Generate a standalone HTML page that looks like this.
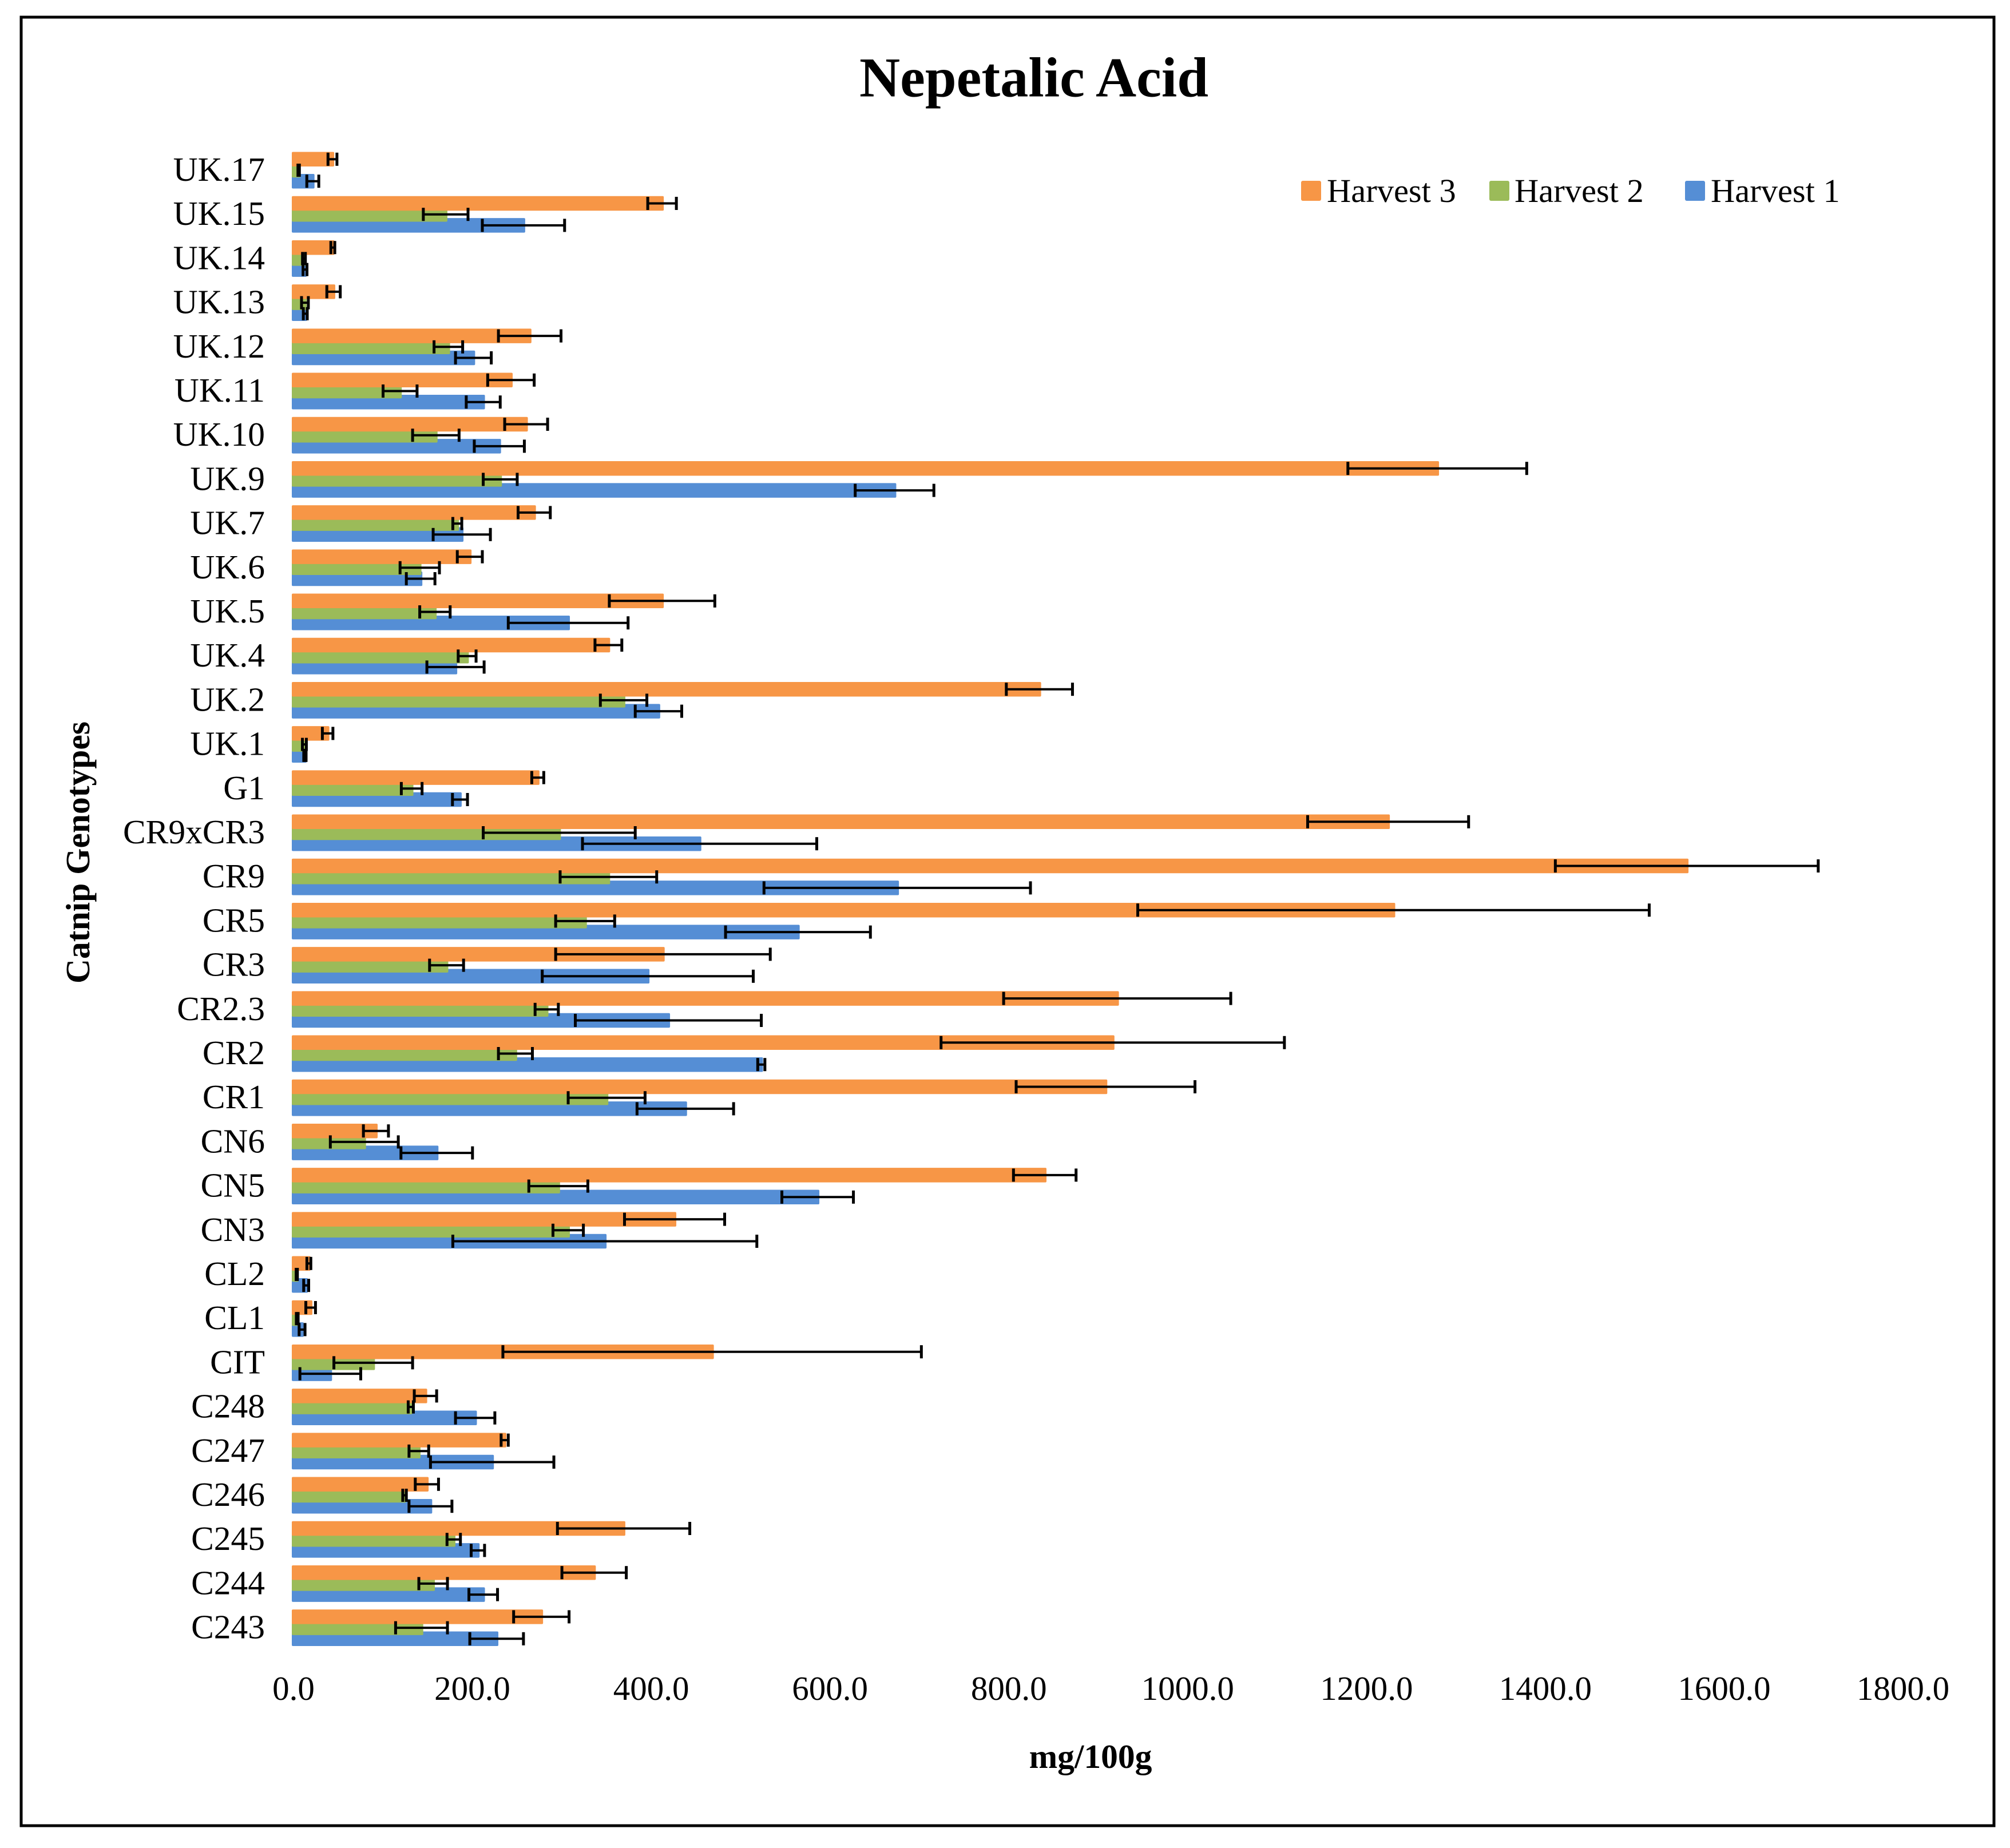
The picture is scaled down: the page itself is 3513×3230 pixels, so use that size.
<!DOCTYPE html>
<html lang="en">
<head>
<meta charset="utf-8">
<title>Nepetalic Acid</title>
<style>
html,body{margin:0;padding:0;background:#fff;}
svg{display:block;font-family:"Liberation Serif",serif;}
</style>
</head>
<body>
<svg id="chart" xmlns="http://www.w3.org/2000/svg" width="3513" height="3230" viewBox="0 0 3513 3230">
  <rect x="0" y="0" width="3513" height="3230" fill="#fff"/>
  <rect x="37" y="30" width="3448" height="3161" fill="none" stroke="#000" stroke-width="5"/>
  <text x="1807" y="168.5" font-size="98.5" font-weight="bold" text-anchor="middle">Nepetalic Acid</text>
  <text transform="translate(156,1490) rotate(-90)" font-size="59.5" font-weight="bold" text-anchor="middle">Catnip Genotypes</text>
  <text x="1906" y="3090" font-size="59.5" font-weight="bold" text-anchor="middle">mg/100g</text>
  <g id="bars"></g>
  <g id="errors"></g>
  <g id="ylabels"></g>
  <g id="xlabels"></g>
  <g>
    <g>
      <rect x="2274" y="316" width="35" height="35" rx="3" fill="#F79646"/>
      <text x="2319" y="353" font-size="58.5">Harvest 3</text>
    </g>
    <g>
      <rect x="2603" y="316" width="35" height="35" rx="3" fill="#9BBB59"/>
      <text x="2647" y="353" font-size="58.5">Harvest 2</text>
    </g>
    <g>
      <rect x="2945" y="316" width="35" height="35" rx="3" fill="#558ED5"/>
      <text x="2990" y="353" font-size="58.5">Harvest 1</text>
    </g>
  </g>
</svg>
<script>
const categories = ["UK.17","UK.15","UK.14","UK.13","UK.12","UK.11","UK.10","UK.9","UK.7","UK.6","UK.5","UK.4","UK.2","UK.1","G1","CR9xCR3","CR9","CR5","CR3","CR2.3","CR2","CR1","CN6","CN5","CN3","CL2","CL1","CIT","C248","C247","C246","C245","C244","C243"];
const harvest3 = [47.4,416,47.8,48.6,268,247,264,1283,273,201,416,356,838,42,277,1228,1562,1234,417,925,920,912,96,844,430,21,23,472,151.4,240,153,373,340,281];
const harvest3Err = [5,16,2.2,7.5,35,26,24,100,18,14,59,15,37,5.9,6.7,90,147,286,120,127,192,100,14,35,56,2.2,5.4,234,12.5,4,13,74,36,31];
const harvest2 = [9.6,174,15.5,16.6,177,123,163,235,187,145,162,198,373,16,136,301,356,330,175,287,252,354,83,300,311,7.5,8,93,135,144,128,183,160,147];
const harvest2Err = [0.8,25,1.6,3.8,16,19,26,19,5,22,17,10,26,2.2,11.6,85,54,33,19,13,19,43,38,33,17,0.7,1,44,2.9,11,2,7.5,16,29];
const harvest1 = [25.4,261,16.7,17,205,216,234,676,192,146,311,185,412,16.6,190,458,679,568,400,423,527,442,164,590,352,18,13.4,45,207,226,157,210,216,231];
const harvest1Err = [6.7,46,2.2,2.2,20,19,28,44,32,16,67,32,26,1.3,8.4,131,149,81,118,104,4,54,40,40,170,2.8,3.3,34,22,69,24,7.5,16,30];
const xTickValues = [0,200,400,600,800,1000,1200,1400,1600,1800];

const NS = "http://www.w3.org/2000/svg";
const plot = {x0: 510, unit: 1.5628, top: 297.5, rowH: 77.2, step: 19.2, barH: 25.5, errShift: -3};
function xScale(v){ return plot.x0 + v * plot.unit; }
function rowCenter(i){ return plot.top + i * plot.rowH; }
function make(tag, attrs, parent){
  const el = document.createElementNS(NS, tag);
  for (const k in attrs) el.setAttribute(k, attrs[k]);
  parent.appendChild(el);
  return el;
}
const barsG = document.getElementById("bars");
const errG = document.getElementById("errors");
const ylG = document.getElementById("ylabels");
const xlG = document.getElementById("xlabels");

// Draw order: blue at the back, orange at the front.
const seriesList = [
  {key:"harvest-1", values:harvest1, errs:harvest1Err, color:"#558ED5", offset:1},
  {key:"harvest-2", values:harvest2, errs:harvest2Err, color:"#9BBB59", offset:0},
  {key:"harvest-3", values:harvest3, errs:harvest3Err, color:"#F79646", offset:-1}
];

seriesList.forEach(function(s){
  categories.forEach(function(cat, i){
    const cy = rowCenter(i) + s.offset * plot.step;
    const r = make("rect", {x:plot.x0, y:cy - plot.barH/2, width:Math.max(0, xScale(s.values[i]) - plot.x0), height:plot.barH, rx:2, fill:s.color}, barsG);
    
    
  });
});

seriesList.forEach(function(s){
  categories.forEach(function(cat, i){
    const cy = rowCenter(i) + s.offset * plot.step;
    const lo = xScale(s.values[i] - s.errs[i]) + plot.errShift;
    const hi = xScale(s.values[i] + s.errs[i]) + plot.errShift;
    const g = make("g", {stroke:"#000", fill:"none"}, errG);
    
    
    make("line", {x1:lo, x2:hi, y1:cy, y2:cy, "stroke-width":4}, g);
    make("line", {x1:lo, x2:lo, y1:cy-11.5, y2:cy+11.5, "stroke-width":5}, g);
    make("line", {x1:hi, x2:hi, y1:cy-11.5, y2:cy+11.5, "stroke-width":5}, g);
  });
});

categories.forEach(function(cat, i){
  const t = make("text", {x:463, y:rowCenter(i) + 18.5, "font-size":59.5, "text-anchor":"end"}, ylG);
  
  
  t.textContent = cat;
});

xTickValues.forEach(function(v){
  const t = make("text", {x:xScale(v) + 3, y:2971, "font-size":59, "text-anchor":"middle"}, xlG);
  
  
  t.textContent = v.toFixed(1);
});
</script>
</body>
</html>
